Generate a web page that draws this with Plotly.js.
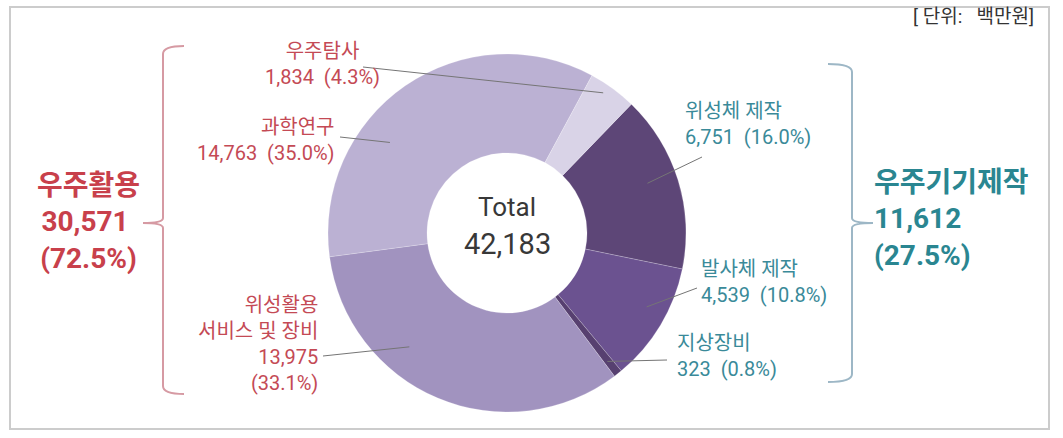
<!DOCTYPE html>
<html>
<head>
<meta charset="utf-8">
<script src="https://cdn.plot.ly/plotly-3.0.1.min.js"></script>
<style>html,body{margin:0;padding:0;background:#fff;}#chart{width:1063px;height:438px;}</style>
</head>
<body>
<div id="chart"></div>
<script>
// ---- data ----
const categories = ["위성체 제작", "발사체 제작", "지상장비", "위성활용 서비스 및 장비", "과학연구", "우주탐사"];
const values = [6751, 4539, 323, 13975, 14763, 1834];
const shares = ["16.0%", "10.8%", "0.8%", "33.1%", "35.0%", "4.3%"];
const valueLabels = ["6,751", "4,539", "323", "13,975", "14,763", "1,834"];
const groups = ["우주기기제작", "우주활용"];
const groupValues = ["11,612", "30,571"];
const groupShares = ["27.5%", "72.5%"];
const totalLabel = "42,183";
const unitLabel = "[\u00a0단위:\u00a0\u00a0\u00a0백만원]";

// ---- layout / style ----
const W = 1063, H = 438;
const cx = 507, cy = 233, R = 179;
const rotation = 44;
const colors = ["#5d4677", "#6b5290", "#574070", "#a193bf", "#bbb1d3", "#d9d3e7"];
const FONT = "Roboto, 'Noto Sans CJK KR', sans-serif";
const RED = "#c44a55", RED_B = "#c8404b", TEAL = "#3a8a99", TEAL_B = "#2a8691";
const X = p => p / W, Y = p => 1 - p / H;

const total = values.reduce((a, b) => a + b, 0);
const starts = []; let acc = 0;
values.forEach(v => { starts.push(rotation + acc / total * 360); acc += v; });
function slicePoint(i, frac, rr) {
  const a = (starts[i] + frac * values[i] / total * 360) * Math.PI / 180;
  return [cx + rr * Math.sin(a), cy - rr * Math.cos(a)];
}

const trace = {
  type: "pie", values: values, labels: categories, sort: false, direction: "clockwise",
  rotation: rotation, hole: 0.447, textinfo: "none", hoverinfo: "none", showlegend: false,
  marker: {colors: colors, line: {color: "rgba(255,255,255,0.35)", width: 0.6}},
  domain: {x: [X(cx - R), X(cx + R)], y: [Y(cy + R), Y(cy - R)]}
};

const ann = [];
function txt(lines, x, y, color, size, xanchor, bold, align) {
  const t = lines.map(s => bold ? "<b>" + s + "</b>" : s).join("<br>");
  ann.push({text: t, x: X(x), y: Y(y), xref: "paper", yref: "paper",
    xanchor: xanchor, yanchor: "middle", align: align || xanchor, showarrow: false, borderpad: 0,
    font: {family: FONT, size: size, color: color}});
}
const sp = "\u00a0\u00a0";
const pct = i => valueLabels[i] + sp + "(" + shares[i] + ")";
const S = 20, B = 28;
// center
txt(["Total"], cx, 207, "#383838", 26, "center");
txt([totalLabel], cx, 244, "#383838", 29, "center");
// unit
txt([unitLabel], 1035, 17, "#333", 19, "right");
// left small labels
txt([categories[5], pct(5)], 322, 64, RED, S, "center");
txt([categories[4], pct(4)], 336, 139.5, RED, S, "right");
txt(["위성활용", "서비스 및 장비", valueLabels[3], "(" + shares[3] + ")"], 319, 343.5, RED, S, "right");
// right small labels
txt([categories[0], pct(0)], 684, 123.5, TEAL, S, "left");
txt([categories[1], pct(1)], 700, 282, TEAL, S, "left");
txt([categories[2], pct(2)], 676, 355.5, TEAL, S, "left");
// group labels
txt([groups[1], groupValues[1] + "\u00a0", "(" + groupShares[1] + ")"], 88, 221.5, RED_B, B, "center", true);
txt([groups[0], groupValues[0], "(" + groupShares[0] + ")"], 873, 219, TEAL_B, B, "left", true);

// ---- shapes ----
const shapes = [];
shapes.push({type: "rect", xref: "paper", yref: "paper", x0: X(10), x1: X(1049), y0: Y(429), y1: Y(7),
  line: {color: "#cccccc", width: 2}});
const leaders = [
  [0, 702, 157, 0.46, 149], [1, 697, 288, 0.42, 158], [2, 667, 360, 0.6, 163],
  [3, 323, 356, 0.65, 150], [4, 340, 137, 0.36, 148], [5, 363, 67, 0.39, 170]
];
leaders.forEach(l => {
  const p = slicePoint(l[0], l[3], l[4]);
  shapes.push({type: "line", xref: "paper", yref: "paper", x0: X(l[1]), y0: Y(l[2]), x1: X(p[0]), y1: Y(p[1]),
    line: {color: "#757575", width: 1}});
});
function bracketPath(xv, xh, top, bot, xm, ym) {
  const P = (x, y) => X(x) + "," + Y(y);
  return "M" + P(xh, top) + " Q" + P(xv, top) + " " + P(xv, top + 8) +
    " L" + P(xv, ym - 5) + " Q" + P(xv, ym) + " " + P(xm, ym) +
    " Q" + P(xv, ym) + " " + P(xv, ym + 5) +
    " L" + P(xv, bot - 8) + " Q" + P(xv, bot) + " " + P(xh, bot);
}
shapes.push({type: "path", xref: "paper", yref: "paper", path: bracketPath(163, 184, 46, 394, 143, 223),
  line: {color: "#d69aa3", width: 2}});
shapes.push({type: "path", xref: "paper", yref: "paper", path: bracketPath(852, 828, 64, 382, 873, 223),
  line: {color: "#9db7c6", width: 2}});

Plotly.newPlot("chart", [trace], {
  width: W, height: H, margin: {l: 0, r: 0, t: 0, b: 0},
  paper_bgcolor: "#ffffff", plot_bgcolor: "#ffffff",
  annotations: ann, shapes: shapes
}, {staticPlot: true, displayModeBar: false});
</script>
</body>
</html>
